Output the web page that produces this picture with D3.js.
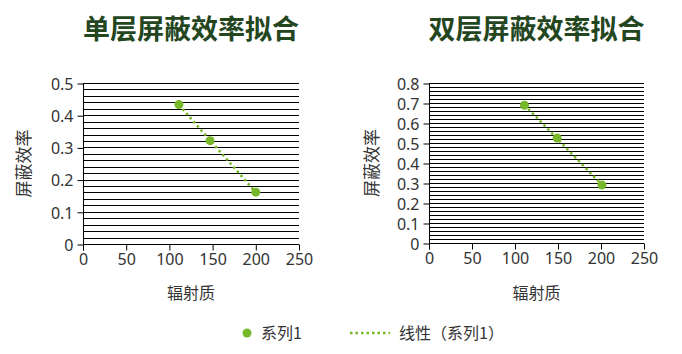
<!DOCTYPE html>
<html>
<head>
<meta charset="utf-8">
<script src="https://cdn.jsdelivr.net/npm/d3@7"></script>
<style>
  body { margin: 0; background: #fff; }
  text { font-family: "Noto Sans CJK SC", "Noto Sans", sans-serif; }
</style>
</head>
<body>
<svg id="chart" width="682" height="354"></svg>
<script>
// data
var singleX = [111, 147, 200];
var singleY = [0.433, 0.321, 0.161];
var doubleX = [111, 149, 201];
var doubleY = [0.689, 0.525, 0.29];

var xTicks = [0, 50, 100, 150, 200, 250];
var singleTicks = [0, 0.1, 0.2, 0.3, 0.4, 0.5];
var doubleTicks = [0, 0.1, 0.2, 0.3, 0.4, 0.5, 0.6, 0.7, 0.8];

var titles = ["单层屏蔽效率拟合", "双层屏蔽效率拟合"];
var yLabel = "屏蔽效率";
var xLabel = "辐射质";
var legendNames = ["系列1", "线性（系列1）"];

var green = "#77b82a";
var svg = d3.select("#chart");

function fit(xs, ys) {
  var n = xs.length, mx = d3.mean(xs), my = d3.mean(ys);
  var num = 0, den = 0;
  for (var i = 0; i < n; i++) {
    num += (xs[i] - mx) * (ys[i] - my);
    den += (xs[i] - mx) * (xs[i] - mx);
  }
  var b = num / den;
  return function (x) { return my + b * (x - mx); };
}

function drawChart(opt) {
  var x = d3.scaleLinear().domain([0, 250]).range([opt.left, opt.right]);
  var y = d3.scaleLinear().domain([0, opt.ymax]).range([opt.bottom, opt.top]);
  var g = svg.append("g");

  // title
  g.append("text")
    .attr("x", (opt.left + opt.right) / 2)
    .attr("y", 39)
    .attr("text-anchor", "middle")
    .attr("font-size", 27)
    .attr("font-weight", "bold")
    .attr("fill", "#24461f")
    .text(opt.title);

  // gridlines every 0.02
  var grid = d3.range(0, Math.round(opt.ymax / 0.02) + 1).map(function (i) { return i * 0.02; });
  g.selectAll("line.grid").data(grid).enter().append("line")
    .attr("class", "grid")
    .attr("x1", opt.left).attr("x2", opt.right)
    .attr("y1", function (d) { return Math.round(y(d)) + 0.5; })
    .attr("y2", function (d) { return Math.round(y(d)) + 0.5; })
    .attr("stroke", "#000").attr("stroke-width", 1);

  var yAxis = d3.axisLeft(y).tickValues(opt.yticks).tickSize(6).tickPadding(4)
    .tickFormat(function (d) { return d === 0 ? "0" : d3.format(".1f")(d); });
  var ya = g.append("g").attr("transform", "translate(" + (opt.left + 0.5) + ",0.5)").call(yAxis);
  ya.select(".domain").remove();
  ya.append("line").attr("x1", 0).attr("x2", 0).attr("y1", opt.top).attr("y2", opt.bottom + 6).attr("stroke", "#000");

  var xAxis = d3.axisBottom(x).tickValues(xTicks).tickSize(6).tickPadding(3);
  var xa = g.append("g").attr("transform", "translate(0," + (Math.round(opt.bottom) + 0.5) + ")").call(xAxis);
  xa.select(".domain").attr("d", "M" + opt.left + ",0H" + opt.right);

  [ya, xa].forEach(function (a) {
    a.selectAll("text").attr("font-size", 16).attr("fill", "#333")
      .style("font-family", "'Noto Sans', sans-serif");
    a.selectAll(".tick line").attr("stroke", "#000");
  });
  ya.selectAll("text").attr("dy", "0.36em");

  // axis titles
  g.append("text")
    .attr("transform", "translate(" + opt.ylabelX + "," + ((opt.top + opt.bottom) / 2) + ") rotate(-90)")
    .attr("text-anchor", "middle")
    .attr("dy", "0.35em")
    .attr("font-size", 17)
    .attr("fill", "#333")
    .text(yLabel);
  g.append("text")
    .attr("x", (opt.left + opt.right) / 2)
    .attr("y", 299)
    .attr("text-anchor", "middle")
    .attr("font-size", 16)
    .attr("fill", "#333")
    .text(xLabel);

  // linear trendline
  var f = fit(opt.xs, opt.ys);
  var x0 = d3.min(opt.xs), x1 = d3.max(opt.xs);
  g.append("line")
    .attr("x1", x(x0)).attr("y1", y(f(x0)))
    .attr("x2", x(x1)).attr("y2", y(f(x1)))
    .attr("stroke", green).attr("stroke-width", 2.5)
    .attr("stroke-dasharray", "2.5,3");

  g.selectAll("circle.pt").data(opt.xs).enter().append("circle")
    .attr("class", "pt")
    .attr("cx", function (d) { return x(d); })
    .attr("cy", function (d, i) { return y(opt.ys[i]); })
    .attr("r", 4.5)
    .attr("fill", green);
}

drawChart({ left: 83, right: 299, top: 83, bottom: 244, ymax: 0.5, yticks: singleTicks,
  xs: singleX, ys: singleY, title: titles[0], ylabelX: 24 });
drawChart({ left: 429, right: 644, top: 83, bottom: 243, ymax: 0.8, yticks: doubleTicks,
  xs: doubleX, ys: doubleY, title: titles[1], ylabelX: 372 });

// legend
var lg = svg.append("g");
lg.append("circle").attr("cx", 247).attr("cy", 333).attr("r", 4.5).attr("fill", green);
lg.append("text").attr("x", 261).attr("y", 339).attr("font-size", 16).attr("fill", "#333").text(legendNames[0]);
lg.append("line").attr("x1", 350).attr("x2", 390).attr("y1", 333).attr("y2", 333)
  .attr("stroke", green).attr("stroke-width", 2.5).attr("stroke-dasharray", "2.5,3");
lg.append("text").attr("x", 399).attr("y", 339).attr("font-size", 16).attr("fill", "#333").text(legendNames[1]);
</script>
</body>
</html>
